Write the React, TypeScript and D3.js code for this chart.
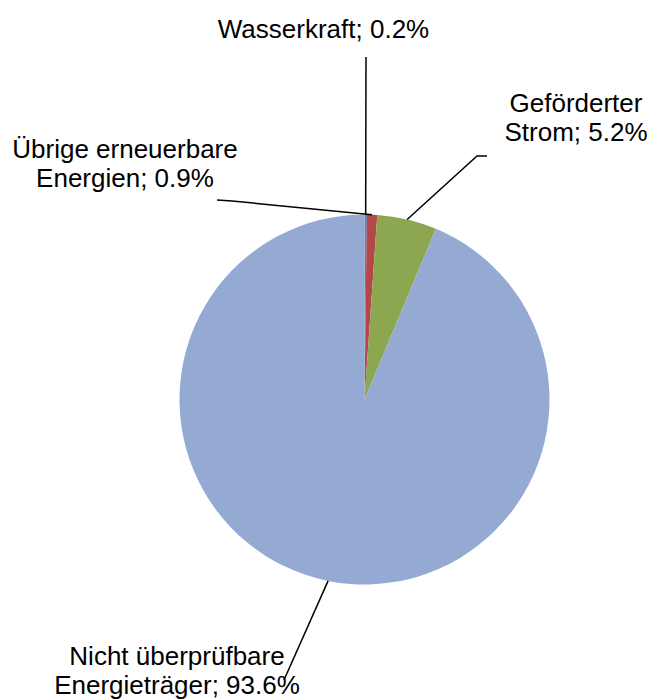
import React from 'react';
import * as d3 from 'd3';

// Anteile der Energieträger (Uhrzeigersinn ab 12 Uhr)
const categories = ['Wasserkraft', 'Übrige erneuerbare Energien', 'Geförderter Strom', 'Nicht überprüfbare Energieträger'];
const shares = [0.2, 0.9, 5.2, 93.6];
const colors = ['#4F81BD', '#B4474A', '#8CA74F', '#95AAD3'];

// label lines as shown in the chart
const labelLines = [
  ['Wasserkraft; 0.2%'],
  ['Übrige erneuerbare', 'Energien; 0.9%'],
  ['Geförderter', 'Strom; 5.2%'],
  ['Nicht überprüfbare', 'Energieträger; 93.6%'],
];

const W = 653;
const H = 700;
const cx = 364.5;
const cy = 399.5;
const radius = 185;
const fontSize = 26;
const lineH = 28.5;

// label anchor (center x, baseline of first line) and leader start points
const labelPos = [
  { x: 323.5, y: 38, leader: [[366, 57]] },
  { x: 125, y: 158, leader: [[217, 200], [232, 201]] },
  { x: 576, y: 112, leader: [[487, 156], [477, 156]] },
  { x: 177, y: 665, leader: [[284, 680]] },
];

const App: React.FC = () => {
  const pie = d3.pie<number>().sort(null).value(d => d);
  const arcs = pie(shares);
  const arcGen = d3.arc<d3.PieArcDatum<number>>().innerRadius(0).outerRadius(radius);

  return (
    <svg width={W} height={H} style={{ display: 'block', position: 'absolute', left: 0, top: 0 }}>
      <rect width={W} height={H} fill="#fff" />
      <g transform={`translate(${cx},${cy})`}>
        {arcs.map((a, i) => (
          <path key={categories[i]} d={arcGen(a) || ''} fill={colors[i]} />
        ))}
      </g>
      {arcs.map((a, i) => {
        const mid = (a.startAngle + a.endAngle) / 2;
        const ex = cx + radius * Math.sin(mid);
        const ey = cy - radius * Math.cos(mid);
        const pts = [...labelPos[i].leader, [ex, ey]];
        const line = d3.line()(pts as [number, number][]);
        return <path key={'l' + i} d={line || ''} fill="none" stroke="#000" strokeWidth={1.5} />;
      })}
      {labelLines.map((lines, i) => (
        <text
          key={'t' + i}
          x={labelPos[i].x}
          y={labelPos[i].y}
          textAnchor="middle"
          fontFamily="'Liberation Sans', Arial, sans-serif"
          fontSize={fontSize}
          fill="#000"
        >
          {lines.map((t, j) => (
            <tspan key={j} x={labelPos[i].x} dy={j === 0 ? 0 : lineH}>{t}</tspan>
          ))}
        </text>
      ))}
    </svg>
  );
};

export default App;
